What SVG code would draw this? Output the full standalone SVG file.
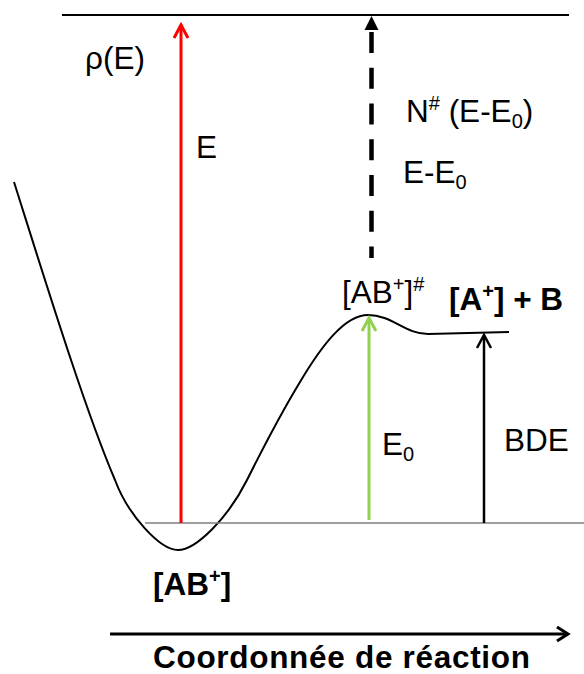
<svg xmlns="http://www.w3.org/2000/svg" width="584" height="674" viewBox="0 0 584 674">
<style>
text{font-family:"Liberation Sans",Arial,sans-serif;fill:#000;font-size:31.5px}
.b{font-weight:bold}
.s{font-size:20px}
.ln{fill:none;stroke-linecap:butt}
</style>
<rect width="584" height="674" fill="#fff"/>
<g id="curve">
<path class="ln" stroke="#000" stroke-width="2" d="M14,182 C45,280 85,410 115,480 C128,515 160,550 178,550 C196,550 228,518 247,480 C262,450 280,415 300,382 C322,345 345,315 368,315 C392,315 405,334 428,334 L509,332"/>
</g>
<g id="connectors">
<line x1="62" y1="15" x2="569" y2="15" stroke="#000" stroke-width="2"/>
<line x1="145" y1="523" x2="584" y2="523" stroke="#7f7f7f" stroke-width="1.5"/>
<line x1="181" y1="523" x2="181" y2="26" stroke="#ff0000" stroke-width="3"/>
<polyline class="ln" points="174,38 181,25 188,38" stroke="#ff0000" stroke-width="3"/>
<line x1="371.5" y1="32" x2="371.5" y2="258" stroke="#000" stroke-width="4.5" stroke-dasharray="21 14.75"/>
<polygon points="371.5,16 364.5,30 378.5,30" fill="#000"/>
<line x1="369" y1="520" x2="369" y2="319" stroke="#92d050" stroke-width="3"/>
<polyline class="ln" points="362,331 369,318 376,331" stroke="#92d050" stroke-width="3"/>
<line x1="484" y1="523" x2="484" y2="336" stroke="#000" stroke-width="2.5"/>
<polyline class="ln" points="477,348 484,335 491,348" stroke="#000" stroke-width="2.5"/>
<line x1="110" y1="634" x2="567" y2="634" stroke="#000" stroke-width="3"/>
<polyline class="ln" points="557,627 568,634 557,641" stroke="#000" stroke-width="3"/>
</g>
<g id="labels">
<text id="rho" x="85" y="69">ρ(E)</text>
<text id="lblE" x="196" y="158">E</text>
<text id="lblN" x="406" y="122">N<tspan class="s" dy="-12">#</tspan><tspan dy="12"> (E-E</tspan><tspan class="s" dy="6">0</tspan><tspan dy="-6">)</tspan></text>
<text id="lblEE0" x="403" y="183">E-E<tspan class="s" dy="6">0</tspan></text>
<text id="ts" x="342" y="303">[AB<tspan class="s" dy="-12">+</tspan><tspan dy="12">]</tspan><tspan class="s" dy="-12">#</tspan></text>
<text id="prod" class="b" x="449" y="310">[A<tspan class="s" dy="-12">+</tspan><tspan dy="12">] + B</tspan></text>
<text id="lblE0" x="382" y="455">E<tspan class="s" dy="6">0</tspan></text>
<text id="lblBDE" x="504" y="451">BDE</text>
<text id="react" class="b" x="153" y="595">[AB<tspan class="s" dy="-12">+</tspan><tspan dy="12">]</tspan></text>
<text id="axis" class="b" x="153" y="668" font-size="32" letter-spacing="0.7">Coordonnée de réaction</text>
</g>
</svg>
